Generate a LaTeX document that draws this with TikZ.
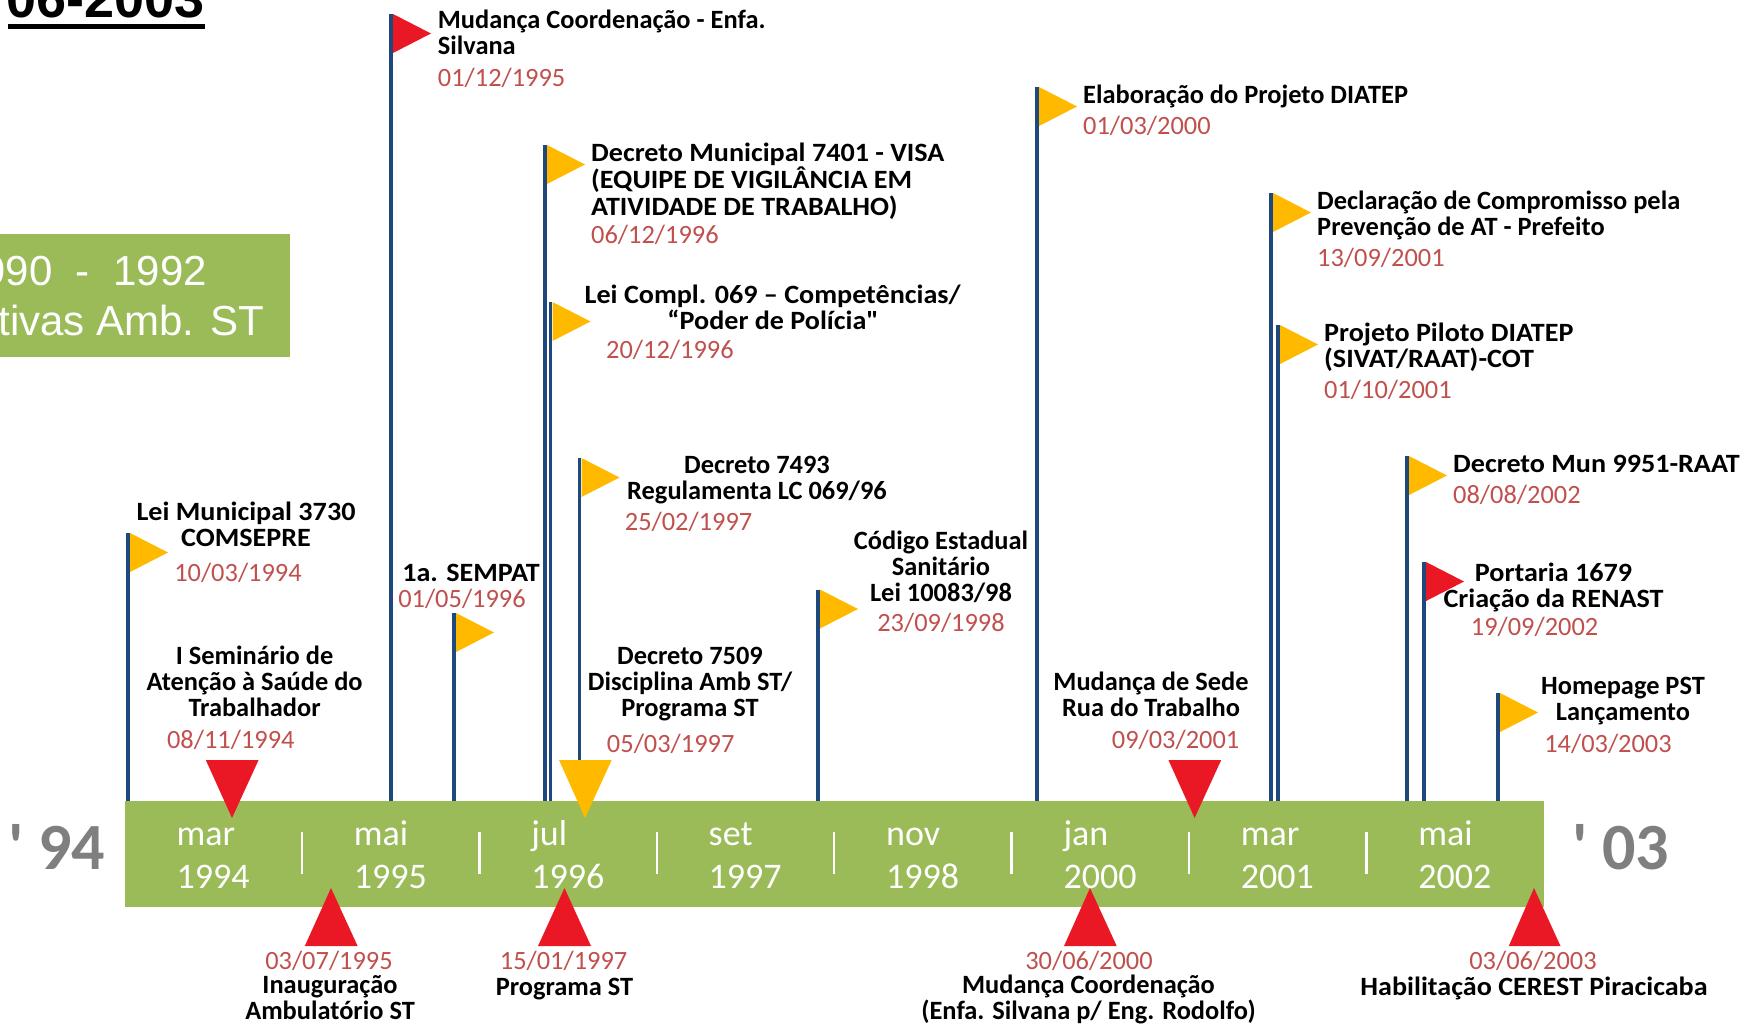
\documentclass[tikz,border=0pt]{standalone}
\usepackage{fontspec}
\setmainfont{Carlito}
\newfontfamily\arialfont{Liberation Sans}
\usetikzlibrary{positioning}

\definecolor{barGreen}{RGB}{155,187,89}
\definecolor{flagYellow}{RGB}{255,186,0}
\definecolor{flagRed}{RGB}{234,24,36}
\definecolor{poleBlue}{RGB}{31,73,125}
\definecolor{dateRed}{RGB}{192,80,77}
\definecolor{yearGray}{RGB}{127,127,127}

\tikzset{
  pole/.style={poleBlue, line width=3.5pt},
  sepline/.style={white, line width=2.5pt},
  evlabel/.style={font=\fontsize{26.4}{26}\selectfont\bfseries, inner sep=0pt, anchor=base, align=center},
  evleft/.style={evlabel, anchor=base west, align=left},
  stretched/.style={font=\fontsize{26.4}{26}\selectfont\bfseries\addfontfeatures{FakeStretch=1.065}},
  evdate/.style={font=\fontsize{26.4}{26}\selectfont, text=dateRed, inner sep=0pt, anchor=base},
  month/.style={font=\fontsize{36}{43}\selectfont, text=white, inner sep=0pt, anchor=base west, align=left},
  yearmark/.style={font=\fontsize{66}{66}\selectfont\bfseries, text=yearGray, inner sep=0pt, anchor=base east},
  boxtext/.style={font=\arialfont\fontsize{42}{50}\selectfont, text=white, inner sep=0pt, anchor=base east}
}

\begin{document}
\begin{tikzpicture}[x=1pt, y=-1pt]
\useasboundingbox (0,0) rectangle (1744,1023);

% title and period box
\node[font=\arialfont\bfseries\fontsize{54}{54}\selectfont, inner sep=0pt, anchor=base west] (title) at (6,17.3) {06-2003};
\draw[line width=5.3pt] ([xshift=2pt, yshift=-9.4pt]title.base west) -- ([yshift=-9.4pt]title.base east);
\fill[barGreen] (0,234) rectangle (290,357);
\node[boxtext] (span) at (207,285) {1990~~-~~1992};
\node[boxtext] (amb) at (264,335) {tivas Amb. ST};

% timeline bar
\fill[barGreen] (124.6,801) rectangle (1543.7,906.5);
\foreach \i in {1,...,7}
  \draw[sepline] (124.6+177.4*\i,832) -- (124.6+177.4*\i,874);
\node[yearmark] (y94) at (105.5,869.6) {\textquotesingle\ 94};
\node[yearmark] (y03) at (1669.5,869.6) {\textquotesingle\ 03};

% poles
\draw[pole] (128,533) -- (128,801)   (391,14) -- (391,801)
  (454,613) -- (454,801)   (545,145) -- (545,801)
  (550.5,302) -- (550.5,801)   (579.5,458) -- (579.5,801)
  (818,589.5) -- (818,801)   (1037,87) -- (1037,801)
  (1271,193) -- (1271,801)   (1278,325) -- (1278,801)
  (1407,456) -- (1407,801)   (1424,562) -- (1424,801)
  (1498,693) -- (1498,801);

% flags
\fill[flagYellow] (130,533) -- ++(38,19.5) -- ++(-38,19.5) -- cycle;
\fill[flagRed] (393,14) -- ++(38,19.5) -- ++(-38,19.5) -- cycle;
\fill[flagYellow] (456,613) -- ++(38,19.5) -- ++(-38,19.5) -- cycle;
\fill[flagYellow] (547,145) -- ++(38,19.5) -- ++(-38,19.5) -- cycle;
\fill[flagYellow] (552.5,302) -- ++(38,19.5) -- ++(-38,19.5) -- cycle;
\fill[flagYellow] (581.5,458) -- ++(38,19.5) -- ++(-38,19.5) -- cycle;
\fill[flagYellow] (820,589.5) -- ++(38,19.5) -- ++(-38,19.5) -- cycle;
\fill[flagYellow] (1039,87) -- ++(38,19.5) -- ++(-38,19.5) -- cycle;
\fill[flagYellow] (1273,193) -- ++(38,19.5) -- ++(-38,19.5) -- cycle;
\fill[flagYellow] (1280,325) -- ++(38,19.5) -- ++(-38,19.5) -- cycle;
\fill[flagYellow] (1409,456) -- ++(38,19.5) -- ++(-38,19.5) -- cycle;
\fill[flagRed] (1426,562) -- ++(38,19.5) -- ++(-38,19.5) -- cycle;
\fill[flagYellow] (1500,693) -- ++(38,19.5) -- ++(-38,19.5) -- cycle;

% markers on the bar
\fill[flagRed] (205.8,760) -- (258.6,760) -- (232,818) -- cycle;
\fill[flagYellow] (559,760) -- (611.7,760) -- (585,818) -- cycle;
\fill[flagRed] (1168.4,760) -- (1221.2,760) -- (1194.6,818) -- cycle;
\fill[flagRed] (304.8,946) -- (357.6,946) -- (331,888) -- cycle;
\fill[flagRed] (538,946) -- (591,946) -- (564.5,888) -- cycle;
\fill[flagRed] (1064,946) -- (1116.7,946) -- (1090,888) -- cycle;
\fill[flagRed] (1508.8,946) -- (1560.5,946) -- (1534,888) -- cycle;

% months
\foreach \m/\yr [count=\i from 0] in {mar/1994, mai/1995, jul/1996, set/1997, nov/1998, jan/2000, mar/2001, mai/2002}
  \node[month] (m\i) at (176.3+177.4*\i,888) {\m\\\yr};

% events above the bar
\node[evlabel, stretched] (comsepre) at (246,546.7) {Lei Municipal 3730\\COMSEPRE};
\node[evdate] (comsepreDate) at (238,581) {10/03/1994};
\node[evleft] (coordEnfa) at (437.7,54) {Mudança Coordenação - Enfa.\\Silvana};
\node[evdate, anchor=base west] (coordEnfaDate) at (437.7,86) {01/12/1995};
\node[evlabel, stretched] (sempat) at (471,581.5) {1a. SEMPAT};
\node[evdate] (sempatDate) at (462,607) {01/05/1996};
\node[evleft, stretched, font=\fontsize{26.4}{27}\selectfont\bfseries\addfontfeatures{FakeStretch=1.065}] (visa) at (591,215) {Decreto Municipal 7401 - VISA\\(EQUIPE DE VIGILÂNCIA EM\\ATIVIDADE DE TRABALHO)};
\node[evdate, anchor=base west] (visaDate) at (591,243) {06/12/1996};
\node[evlabel, stretched] (lc069) at (772.7,329.7) {Lei Compl. 069 – Competências/\\“Poder de Polícia\textquotedbl};
\node[evdate, anchor=base west] (lc069Date) at (606,358) {20/12/1996};
\node[evlabel] (dec7493) at (757,499.7) {Decreto 7493\\Regulamenta LC 069/96};
\node[evdate] (dec7493Date) at (688.6,530.5) {25/02/1997};
\node[evlabel] (codigo) at (941,601.5) {Código Estadual\\Sanitário\\Lei 10083/98};
\node[evdate] (codigoDate) at (941,631.5) {23/09/1998};
\node[evleft] (diatep) at (1083,103) {Elaboração do Projeto DIATEP};
\node[evdate, anchor=base west] (diatepDate) at (1083,134) {01/03/2000};
\node[evleft] (compromisso) at (1317,235.7) {Declaração de Compromisso pela\\Prevenção de AT - Prefeito};
\node[evdate, anchor=base west] (compromissoDate) at (1317,266.3) {13/09/2001};
\node[evleft, stretched] (piloto) at (1324,367.3) {Projeto Piloto DIATEP\\(SIVAT/RAAT)-COT};
\node[evdate, anchor=base west] (pilotoDate) at (1324,398) {01/10/2001};
\node[evleft, stretched] (raat) at (1453,472) {Decreto Mun 9951-RAAT};
\node[evdate, anchor=base west] (raatDate) at (1453,503) {08/08/2002};
\node[evlabel, stretched] (renast) at (1553.5,607) {Portaria 1679\\Criação da RENAST};
\node[evdate] (renastDate) at (1534.6,635.4) {19/09/2002};
\node[evlabel] (homepage) at (1623,720.6) {Homepage PST\\Lançamento};
\node[evdate] (homepageDate) at (1608,752) {14/03/2003};
\node[evlabel] (seminario) at (254.6,716.3) {I Seminário de\\Atenção à Saúde do\\Trabalhador};
\node[evdate] (seminarioDate) at (230.8,748) {08/11/1994};
\node[evlabel] (dec7509) at (690,716.3) {Decreto 7509\\Disciplina Amb ST/\\Programa ST};
\node[evdate] (dec7509Date) at (670.7,752) {05/03/1997};
\node[evlabel] (sede) at (1151,716.3) {Mudança de Sede\\Rua do Trabalho};
\node[evdate] (sedeDate) at (1175.6,748) {09/03/2001};

% events below the bar
\node[evdate] (ambDate) at (329,969) {03/07/1995};
\node[evlabel] (ambulatorio) at (330,1019) {Inauguração\\Ambulatório ST};
\node[evdate] (programaDate) at (563.6,969) {15/01/1997};
\node[evlabel] (programa) at (564.5,995.7) {Programa ST};
\node[evdate] (coordEngDate) at (1089,969) {30/06/2000};
\node[evlabel] (coordEng) at (1088.5,1019) {Mudança Coordenação\\(Enfa. Silvana p/ Eng. Rodolfo)};
\node[evdate] (cerestDate) at (1533,969) {03/06/2003};
\node[evlabel, stretched] (cerest) at (1534,995.7) {Habilitação CEREST Piracicaba};
\end{tikzpicture}
\end{document}
